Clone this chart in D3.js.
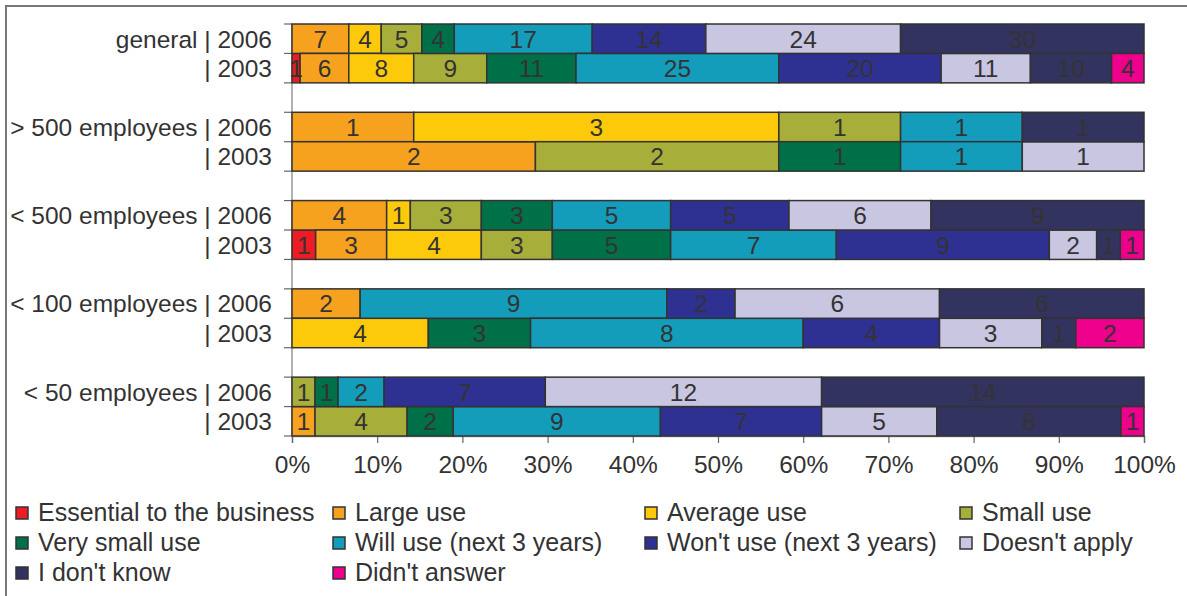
<!DOCTYPE html>
<html>
<head>
<meta charset="utf-8">
<script src="https://cdn.jsdelivr.net/npm/d3@7"></script>
<style>
  body { margin: 0; background: #fff; }
  text { font-family: "Liberation Sans", Arial, sans-serif; fill: #333; }
</style>
</head>
<body>
<div id="chart"></div>
<script>
// slots top to bottom, the s* ones are empty spacer rows
const slots = ["g06", "g03", "s1", "a06", "a03", "s2", "b06", "b03", "s3", "c06", "c03", "s4", "d06", "d03"];
const rows = ["g06", "g03", "a06", "a03", "b06", "b03", "c06", "c03", "d06", "d03"];
const rowLabels = ["general | 2006", "| 2003", "> 500 employees | 2006", "| 2003",
  "< 500 employees | 2006", "| 2003", "< 100 employees | 2006", "| 2003",
  "< 50 employees | 2006", "| 2003"];

const seriesNames = ["Essential to the business", "Large use", "Average use", "Small use",
  "Very small use", "Will use (next 3 years)", "Won't use (next 3 years)", "Doesn't apply",
  "I don't know", "Didn't answer"];
const seriesColors = ["#ed1c24", "#f6a21e", "#fdca0b", "#a8ae3a", "#007048", "#139dbb",
  "#2e3192", "#c9c6e2", "#33335f", "#ec008c"];

// counts per series, one value per bar row (same order as rows)
const essential    = [0, 1, 0, 0, 0, 1, 0, 0, 0, 0];
const largeUse     = [7, 6, 1, 2, 4, 3, 2, 0, 0, 1];
const averageUse   = [4, 8, 3, 0, 1, 4, 0, 4, 0, 0];
const smallUse     = [5, 9, 1, 2, 3, 3, 0, 0, 1, 4];
const verySmallUse = [4, 11, 0, 1, 3, 5, 0, 3, 1, 2];
const willUse      = [17, 25, 1, 1, 5, 7, 9, 8, 2, 9];
const wontUse      = [14, 20, 0, 0, 5, 9, 2, 4, 7, 7];
const doesntApply  = [24, 11, 0, 1, 6, 2, 6, 3, 12, 5];
const dontKnow     = [30, 10, 1, 0, 9, 1, 6, 1, 14, 8];
const noAnswer     = [0, 4, 0, 0, 0, 1, 0, 2, 0, 1];

const seriesValues = [essential, largeUse, averageUse, smallUse, verySmallUse,
  willUse, wontUse, doesntApply, dontKnow, noAnswer];

const xTicks = [0, 0.1, 0.2, 0.3, 0.4, 0.5, 0.6, 0.7, 0.8, 0.9, 1];

const W = 1187, H = 596;
const margin = {top: 24, left: 292, right: 43, bottom: 160};
const fontSize = "24.5px";

const svg = d3.select("#chart").append("svg")
  .attr("width", W).attr("height", H);

// outer frame
svg.append("rect")
  .attr("x", 6).attr("y", 6).attr("width", W + 10).attr("height", H + 10)
  .attr("fill", "none").attr("stroke", "#777").attr("stroke-width", 2);

const x = d3.scaleLinear().domain([0, 1]).range([margin.left, W - margin.right]);
const y = d3.scaleBand().domain(slots).range([margin.top, H - margin.bottom]).padding(0);

// build stacked proportions
const table = rows.map((r, i) => {
  const o = {row: r};
  seriesNames.forEach((s, j) => o[s] = seriesValues[j][i]);
  return o;
});
const stack = d3.stack().keys(seriesNames)
  .offset(d3.stackOffsetExpand);
const stacked = stack(table);

// left axis line + ticks at every slot boundary
const bounds = slots.map(s => y(s)).concat([y(slots[slots.length - 1]) + y.bandwidth()]);
svg.append("line")
  .attr("x1", x(0)).attr("x2", x(0))
  .attr("y1", margin.top).attr("y2", H - margin.bottom)
  .attr("stroke", "#999").attr("stroke-width", 1.5);
svg.selectAll(".ytick").data(bounds).enter().append("line")
  .attr("class", "ytick")
  .attr("x1", x(0) - 8).attr("x2", x(0))
  .attr("y1", d => d).attr("y2", d => d)
  .attr("stroke", "#666").attr("stroke-width", 1.2);

// bottom axis
const xAxis = svg.append("g")
  .attr("transform", `translate(0,${H - margin.bottom})`)
  .call(d3.axisBottom(x).tickValues(xTicks).tickFormat(d3.format(".0%")).tickSize(7).tickPadding(13));
xAxis.select(".domain").attr("stroke", "#999").attr("stroke-width", 1.5);
xAxis.selectAll(".tick line").attr("stroke", "#666").attr("stroke-width", 1.2);
xAxis.selectAll(".tick text")
  .style("font-family", "'Liberation Sans', Arial, sans-serif")
  .style("font-size", fontSize).attr("fill", "#333");

// bars
const layers = svg.selectAll(".layer").data(stacked).enter().append("g")
  .attr("class", "layer")
  .attr("fill", (d, i) => seriesColors[i]);

layers.selectAll("rect").data(d => d.filter(p => p[1] - p[0] > 0)).enter().append("rect")
  .attr("x", d => x(d[0]))
  .attr("y", d => y(d.data.row))
  .attr("width", d => x(d[1]) - x(d[0]))
  .attr("height", y.bandwidth())
  .attr("stroke", "#333").attr("stroke-width", 1.5);

// value labels
stacked.forEach((layer, i) => {
  svg.selectAll(".lbl" + i).data(layer.filter(p => p[1] - p[0] > 0)).enter().append("text")
    .attr("class", "lbl" + i)
    .attr("x", d => (x(d[0]) + x(d[1])) / 2)
    .attr("y", d => y(d.data.row) + y.bandwidth() / 2)
    .attr("dy", "0.36em")
    .attr("text-anchor", "middle")
    .style("font-size", fontSize)
    .text(d => d.data[layer.key]);
});

// row labels
svg.selectAll(".rowlabel").data(rows).enter().append("text")
  .attr("class", "rowlabel")
  .attr("x", 272)
  .attr("y", d => y(d) + y.bandwidth() / 2)
  .attr("dy", "0.36em")
  .attr("text-anchor", "end")
  .style("font-size", fontSize)
  .text((d, i) => rowLabels[i]);

// legend
const legCols = [16, 333, 645, 960];
const legRows = [513, 543, 573];
const legend = svg.selectAll(".leg").data(seriesNames).enter().append("g")
  .attr("class", "leg")
  .attr("transform", (d, i) => `translate(${legCols[i % 4]},${legRows[Math.floor(i / 4)]})`);
legend.append("rect")
  .attr("x", 0).attr("y", -6).attr("width", 12).attr("height", 12)
  .attr("fill", (d, i) => seriesColors[i])
  .attr("stroke", "#333").attr("stroke-width", 1.5);
legend.append("text")
  .attr("x", 22).attr("y", 8)
  .style("font-size", "25px")
  .text(d => d);
</script>
</body>
</html>
